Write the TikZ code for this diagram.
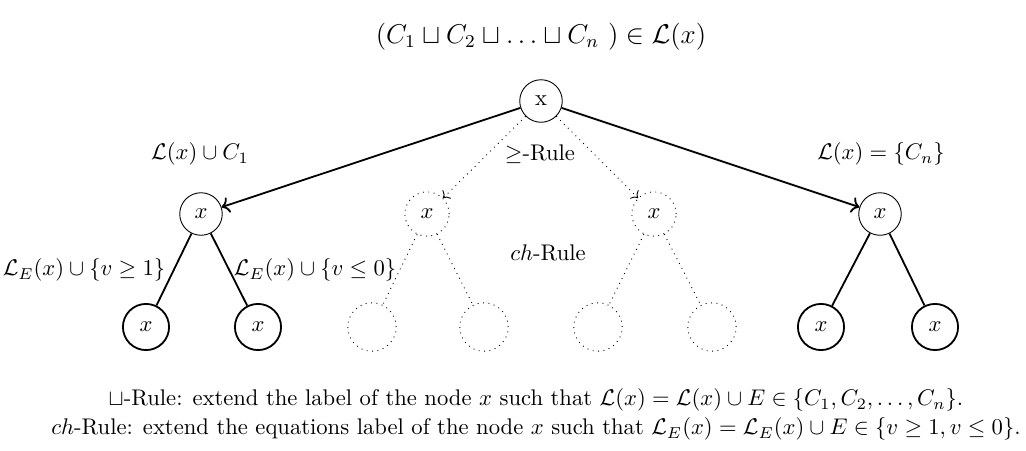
\documentclass[tikz,border=0pt]{standalone}
\usepackage{amsmath,amssymb}
\usepackage{tikz}
\usetikzlibrary{positioning,arrows.meta}

\begin{document}
\begin{tikzpicture}[x=0.442pt, y=-0.442pt,
    circNode/.style={circle, draw, thin, minimum size=18.8pt, inner sep=0pt},
    leafNode/.style={circle, draw, thick, minimum size=20.4pt, inner sep=0pt},
    dotNode/.style={circle, draw, dotted, minimum size=19.6pt, inner sep=0pt},
    dotLeaf/.style={circle, draw, dotted, minimum size=21.4pt, inner sep=0pt},
    edgeStyle/.style={thick},
    arrowStyle/.style={->, thick},
    dotArrow/.style={->, dotted},
    labelStyle/.style={inner sep=1pt}
]
    \useasboundingbox (0,0) rectangle (1026,450);

    \node[labelStyle] (head) at (541, 37) {\large $(C_1 \sqcup C_2 \sqcup \ldots \sqcup C_n~) \in \mathcal{L}(x)$};

    % tree
    \node[circNode] (root) at (541, 101) {x};
    \node[circNode] (left) at (201, 214) {$x$};
    \node[dotNode] (midL) at (427, 214) {$x$};
    \node[dotNode] (midR) at (654, 214) {$x$};
    \node[circNode] (right) at (880, 214) {$x$};

    \node[leafNode] (leafA) at (146, 327) {$x$};
    \node[leafNode] (leafB) at (258, 327) {$x$};
    \node[dotLeaf] (leafC) at (372, 327) {};
    \node[dotLeaf] (leafD) at (484, 327) {};
    \node[dotLeaf] (leafE) at (598, 327) {};
    \node[dotLeaf] (leafF) at (712, 327) {};
    \node[leafNode] (leafG) at (821, 327) {$x$};
    \node[leafNode] (leafH) at (935, 327) {$x$};

    \draw[arrowStyle] (root) -- (left);
    \draw[arrowStyle] (root) -- (right);
    \draw[dotArrow] (root) -- (midL);
    \draw[dotArrow] (root) -- (midR);

    \draw[edgeStyle] (left) -- (leafA);
    \draw[edgeStyle] (left) -- (leafB);
    \draw[dotted] (midL) -- (leafC);
    \draw[dotted] (midL) -- (leafD);
    \draw[dotted] (midR) -- (leafE);
    \draw[dotted] (midR) -- (leafF);
    \draw[edgeStyle] (right) -- (leafG);
    \draw[edgeStyle] (right) -- (leafH);

    % rule labels
    \node[labelStyle] (lblC1) at (200, 154) {$\mathcal{L}(x) \cup C_1$};
    \node[labelStyle] (lblGe) at (540, 154) {$\geq$-Rule};
    \node[labelStyle] (lblCn) at (881, 154) {$\mathcal{L}(x) = \{C_n\}$};
    \node[labelStyle] (lblCh) at (548, 253) {$ch$-Rule};
    \node[labelStyle] (lblV1) at (84, 270) {$\mathcal{L}_E(x) \cup \{v \geq 1\}$};
    \node[labelStyle] (lblV0) at (315, 270) {$\mathcal{L}_E(x) \cup \{v \leq 0\}$};

    \node[labelStyle] (capA) at (536, 400) {$\sqcup$-Rule: extend the label of the node $x$ such that $\mathcal{L}(x) = \mathcal{L}(x) \cup E \in \{C_1, C_2, \ldots, C_n\}$.};
    \node[labelStyle] (capB) at (536, 429) {$ch$-Rule: extend the equations label of the node $x$ such that $\mathcal{L}_E(x) = \mathcal{L}_E(x) \cup E \in \{v \geq 1, v \leq 0\}$.};
\end{tikzpicture}
\end{document}
